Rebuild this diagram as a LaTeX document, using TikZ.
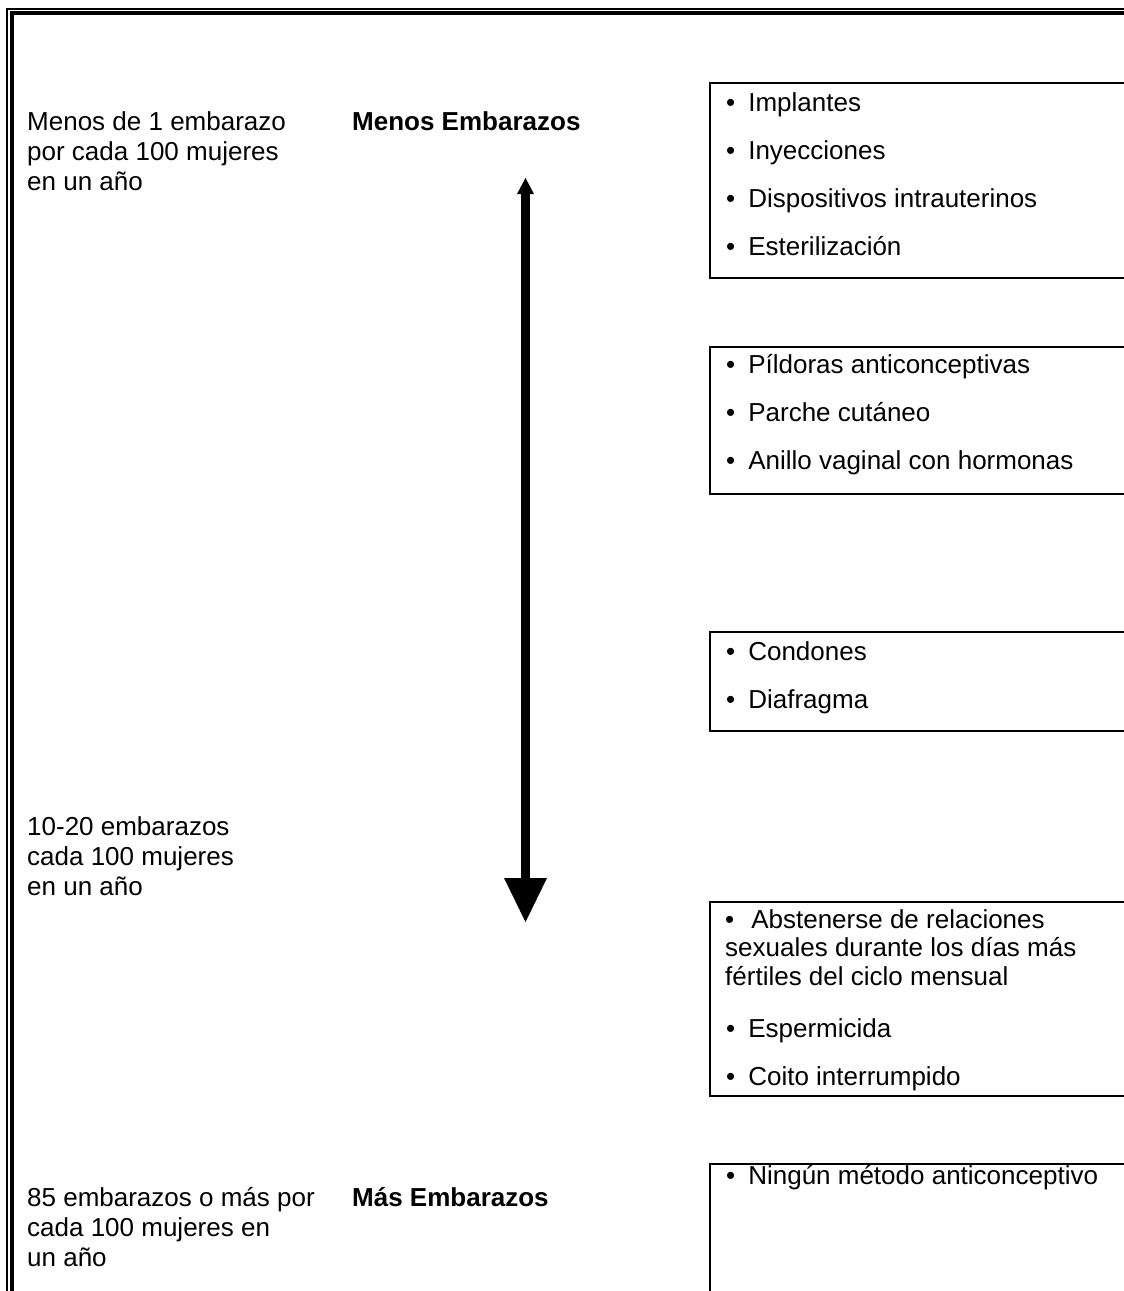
\documentclass[tikz,border=0pt]{standalone}
\usepackage{fontspec}
\setmainfont{Liberation Sans}
\usetikzlibrary{arrows.meta}
\begin{document}
\begin{tikzpicture}[x=1pt,y=-1pt,
  txt/.style={inner sep=0pt,anchor=base west,align=left,font=\fontsize{26}{30}\selectfont},
  item/.style={inner sep=0pt,anchor=base west,font=\fontsize{26}{30}\selectfont},
  boxline/.style={line width=2pt},
  bigarrow/.style={line width=9pt,
    {Triangle[length=16pt,width=17pt,line width=0pt 0 0]}-{Triangle[length=44pt,width=43pt,line width=0pt 0 0]}}
]
\useasboundingbox (0,0) rectangle (1124,1291);
\clip (0,0) rectangle (1124,1291);
\fill[white] (0,0) rectangle (1124,1291);
% outer frame
\draw[line width=2pt] (7,1310) -- (7,9) -- (1140,9);
\draw[line width=4pt] (11.5,1310) -- (11.5,13) -- (1140,13);
% boxes
\draw[boxline] (1140,83) -- (710,83) -- (710,278) -- (1140,278);
\draw[boxline] (1140,347) -- (710,347) -- (710,494) -- (1140,494);
\draw[boxline] (1140,632) -- (710,632) -- (710,731) -- (1140,731);
\draw[boxline] (1140,902) -- (710,902) -- (710,1095.5) -- (1140,1095.5);
\draw[boxline] (1140,1163.5) -- (710,1163.5) -- (710,1310);
% left texts
\node[txt] (l1) at (27,130.5) {\begin{tabular}[t]{@{}l@{}}Menos de 1 embarazo\\ por cada 100 mujeres\\ en un año\end{tabular}};
\node[txt] (l2) at (27,835) {\begin{tabular}[t]{@{}l@{}}10-20 embarazos\\ cada 100 mujeres\\ en un año\end{tabular}};
\node[txt] (l3) at (27,1206) {\begin{tabular}[t]{@{}l@{}}85 embarazos o más por\\ cada 100 mujeres en\\ un año\end{tabular}};
\node[txt,font=\fontsize{26}{30}\selectfont\bfseries] (menos) at (352,130.5) {Menos Embarazos};
\node[txt,font=\fontsize{26}{30}\selectfont\bfseries] (mas) at (352,1206) {Más Embarazos};
% arrow
\coordinate (up) at (525.5,178);
\coordinate (down) at (525.5,922);
\draw[bigarrow] (up) -- (down);
% box 1
\node[item] (i1) at (726,111) {\textbullet\hspace{13pt}Implantes};
\node[item] (i2) at (726,159) {\textbullet\hspace{13pt}Inyecciones};
\node[item] (i3) at (726,207) {\textbullet\hspace{13pt}Dispositivos intrauterinos};
\node[item] (i4) at (726,255) {\textbullet\hspace{13pt}Esterilización};
% box 2
\node[item] (i5) at (726,373) {\textbullet\hspace{13pt}Píldoras anticonceptivas};
\node[item] (i6) at (726,421) {\textbullet\hspace{13pt}Parche cutáneo};
\node[item] (i7) at (726,469) {\textbullet\hspace{13pt}Anillo vaginal con hormonas};
% box 3
\node[item] (i8) at (726,660) {\textbullet\hspace{13pt}Condones};
\node[item] (i9) at (726,708) {\textbullet\hspace{13pt}Diafragma};
% box 4
\node[item] (i10) at (725,928) {\begin{tabular}[t]{@{}l@{}}\textbullet\hspace{17pt}Abstenerse de relaciones\\[-1.5pt] sexuales durante los días más\\[-1.5pt] fértiles del ciclo mensual\end{tabular}};
\node[item] (i11) at (726,1037) {\textbullet\hspace{13pt}Espermicida};
\node[item] (i12) at (726,1085) {\textbullet\hspace{13pt}Coito interrumpido};
% box 5
\node[item] (i13) at (726,1184) {\textbullet\hspace{13pt}Ningún método anticonceptivo};
\end{tikzpicture}
\end{document}
